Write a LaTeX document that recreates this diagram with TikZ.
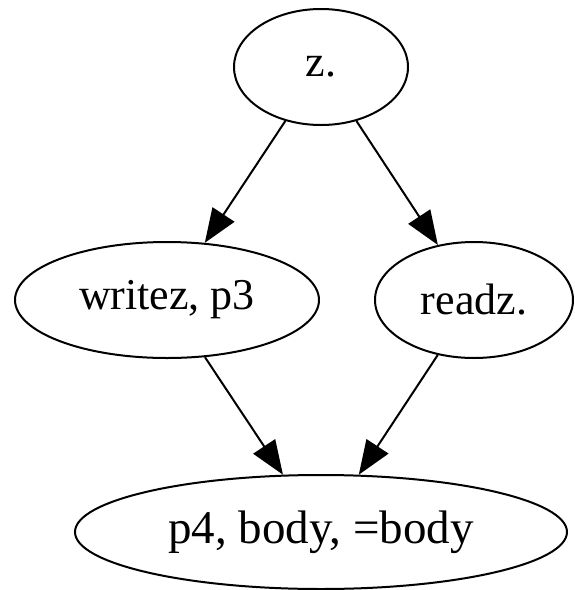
\documentclass[tikz,border=0pt]{standalone}
\usepackage{fontspec}
\setmainfont{Liberation Serif}
\usetikzlibrary{shapes.geometric,arrows.meta}
\begin{document}
\begin{tikzpicture}[x=1pt,y=-1pt,
  state/.style={ellipse,draw,line width=2pt,inner sep=0pt,
    minimum height=116pt,font=\fontsize{44}{50}\selectfont},
  flow/.style={draw,line width=2pt,-{Triangle[length=34pt,width=26pt]}}]
  \useasboundingbox (0,0) rectangle (575,590);
  \node[state,minimum width=174pt] (z) at (321,67) {z.};
  \node[state,minimum width=304pt] (w) at (167,300) {writez, p3};
  \node[state,minimum width=198pt] (r) at (474,300) {readz.};
  \node[state,minimum width=492pt,minimum height=114pt,
    font=\fontsize{47}{52}\selectfont] (p) at (321,532) {p4, body, =body};
  \draw[flow] (z) -- (w);
  \draw[flow] (z) -- (r);
  \draw[flow] (w) -- (p);
  \draw[flow] (r) -- (p);
\end{tikzpicture}
\end{document}
